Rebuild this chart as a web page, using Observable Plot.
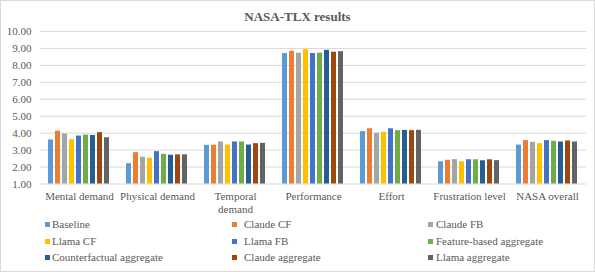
<!DOCTYPE html>
<html>
<head>
<meta charset="utf-8">
<script src="https://cdn.jsdelivr.net/npm/d3@7"></script>
<script src="https://cdn.jsdelivr.net/npm/@observablehq/plot@0.6"></script>
<style>
  body { margin: 0; background: #fff; }
  #wrap { position: relative; width: 595px; height: 272px; overflow: hidden; background: #fff;
          font-family: "Liberation Serif", "Times New Roman", serif; color: #595959; }
  #frame { position: absolute; left: 0; top: 0; width: 595px; height: 272px; box-sizing: border-box;
           border: 1px solid #d9d9d9; pointer-events: none; }
  #title { position: absolute; left: 0; top: 8px; width: 595px; text-align: center;
           font-weight: bold; font-size: 13px; line-height: 17px; }
  #chart { position: absolute; left: 0; top: 24px; }
  .sw { position: absolute; width: 5px; height: 5px; }
  .lt { position: absolute; font-size: 11px; line-height: 14px; white-space: nowrap; }
</style>
</head>
<body>
<div id="wrap">
  <div id="title">NASA-TLX results</div>
  <div id="chart"></div>
  <div id="legend"></div>
  <div id="frame"></div>
</div>
<script>
const categories = ["Mental demand", "Physical demand", "Temporal demand", "Performance", "Effort", "Frustration level", "NASA overall"];
const categoryLabels = ["Mental demand", "Physical demand", "Temporal\ndemand", "Performance", "Effort", "Frustration level", "NASA overall"];
const seriesNames = ["Baseline", "Claude CF", "Claude FB", "Llama CF", "Llama FB", "Feature-based aggregate", "Counterfactual aggregate", "Claude aggregate", "Llama aggregate"];
const seriesColors = ["#5B9BD5", "#ED7D31", "#A5A5A5", "#FFC000", "#4472C4", "#70AD47", "#255E91", "#9E480E", "#636363"];
const yTicks = [1, 2, 3, 4, 5, 6, 7, 8, 9, 10];

const baseline   = [3.60, 2.20, 3.28, 8.70, 4.09, 2.31, 3.30];
const claudeCF   = [4.12, 2.85, 3.29, 8.83, 4.26, 2.40, 3.56];
const claudeFB   = [3.95, 2.58, 3.48, 8.72, 3.99, 2.44, 3.46];
const llamaCF    = [3.61, 2.52, 3.30, 8.93, 4.05, 2.31, 3.38];
const llamaFB    = [3.83, 2.91, 3.48, 8.70, 4.26, 2.43, 3.56];
const featureAgg = [3.89, 2.75, 3.48, 8.72, 4.15, 2.43, 3.52];
const cfAgg      = [3.86, 2.70, 3.30, 8.89, 4.16, 2.37, 3.48];
const claudeAgg  = [4.03, 2.72, 3.38, 8.78, 4.15, 2.43, 3.54];
const llamaAgg   = [3.73, 2.72, 3.40, 8.81, 4.17, 2.38, 3.48];

const seriesValues = [baseline, claudeCF, claudeFB, llamaCF, llamaFB, featureAgg, cfAgg, claudeAgg, llamaAgg];
const data = [];
seriesNames.forEach((s, i) => categories.forEach((c, j) => data.push({category: c, series: s, value: seriesValues[i][j]})));

const labelOf = new Map(categories.map((c, i) => [c, categoryLabels[i]]));

const plot = Plot.plot({
  width: 595,
  height: 192,
  marginLeft: 39,
  marginRight: 8,
  marginTop: 7,
  marginBottom: 32.5,
  style: {fontFamily: "'Liberation Serif', 'Times New Roman', serif", fontSize: "11px", color: "#595959", background: "transparent"},
  fx: {domain: categories, padding: 0, axis: null, label: null},
  x: {domain: seriesNames, paddingInner: 0.24, paddingOuter: 0.84, axis: null, label: null},
  y: {domain: [1, 10], axis: null, label: null},
  color: {domain: seriesNames, range: seriesColors},
  marks: [
    Plot.gridY(yTicks, {stroke: "#d9d9d9", strokeOpacity: 1, strokeWidth: 1}),
    Plot.barY(data, {fx: "category", x: "series", y1: 1, y2: "value", fill: "series"}),
    Plot.axisY(yTicks, {tickSize: 0, tickPadding: 9, tickFormat: d => d.toFixed(2), fontSize: 11, label: null}),
    Plot.axisFx({anchor: "bottom", tickSize: 0, tickPadding: 7, tickFormat: d => labelOf.get(d), lineHeight: 1.18, fontSize: 11, label: null})
  ]
});
document.getElementById("chart").appendChild(plot);

// Legend (3 columns, row-major)
const legend = document.getElementById("legend");
const swX = [45, 232, 428];
const txX = [52, 244, 436];
const rowY = [224.3, 241, 257.3];
seriesNames.forEach((s, i) => {
  const col = i % 3, row = Math.floor(i / 3);
  const sw = document.createElement("div");
  sw.className = "sw";
  sw.style.left = swX[col] + "px";
  sw.style.top = (rowY[row] - 2.5) + "px";
  sw.style.background = seriesColors[i];
  legend.appendChild(sw);
  const t = document.createElement("div");
  t.className = "lt";
  t.style.left = txX[col] + "px";
  t.style.top = (rowY[row] - 7) + "px";
  t.textContent = s;
  legend.appendChild(t);
});
</script>
</body>
</html>
